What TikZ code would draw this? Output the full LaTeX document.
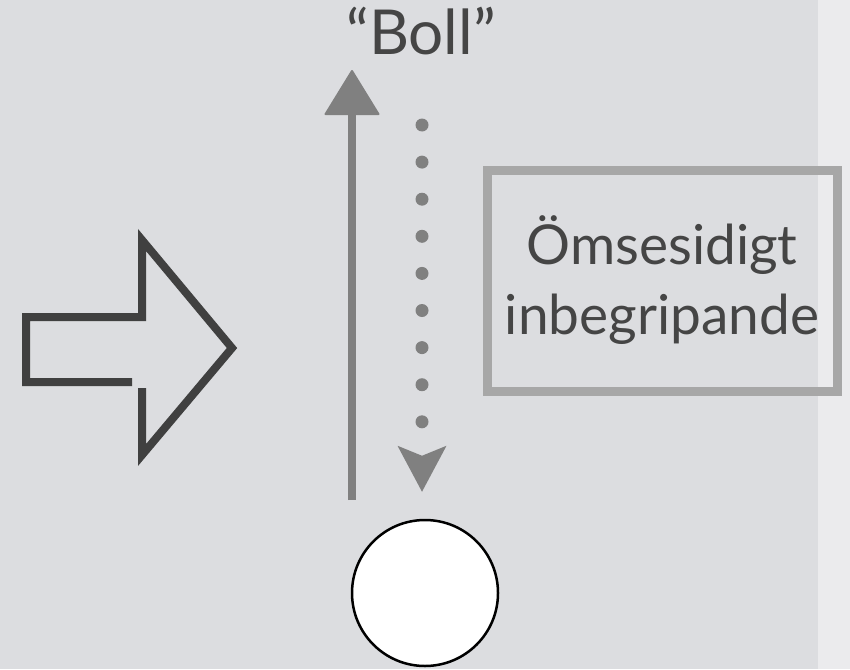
\documentclass[tikz,border=0pt]{standalone}
\usepackage{fontspec}
\setmainfont{Lato}
\usetikzlibrary{arrows.meta}

\definecolor{paper}{HTML}{DCDDE0}
\definecolor{strip}{HTML}{EBEBED}
\definecolor{ink}{HTML}{454545}
\definecolor{darkarrow}{HTML}{404040}
\definecolor{arrowgray}{HTML}{808080}
\definecolor{framegray}{HTML}{A7A7A7}

\tikzset{
  bolltext/.style={text=ink,inner sep=0pt,font=\fontsize{62}{64}\selectfont},
  framebox/.style={draw=framegray,line width=9pt,minimum width=350pt,minimum height=221pt,
    align=center,text=ink,font=\fontsize{55}{70}\selectfont},
  ballnode/.style={circle,draw=black,line width=2.5pt,fill=white,minimum size=146pt,inner sep=0pt},
  uparrow/.style={draw=arrowgray,line width=7.5pt,
    -{Triangle[length=46pt,width=56pt,line width=2pt,round]}},
  dotarrow/.style={draw=arrowgray,line width=13pt,line cap=round,dash pattern=on 0pt off 37.1pt,
    -{Stealth[length=46pt,width=49pt,inset=10pt,line width=0pt]}},
  bigarrow/.style={draw=darkarrow,line width=8pt,miter limit=20}
}

\begin{document}
\begin{tikzpicture}[x=1pt,y=-1pt]
\useasboundingbox (0,0) rectangle (850,669);
\fill[paper] (0,0) rectangle (850,669);
\fill[strip] (818,0) rectangle (850,669);

% big outlined arrow
\draw[bigarrow] (132,382) -- (26,382) -- (26,317) -- (142,317) -- (142,240)
  -- (232,348) -- (142,455) -- (142,388);

\node[bolltext,anchor=base] (boll) at (421,55) {“Boll”};
\node[framebox] (mutual) at (662,280.5) {Ömsesidigt\\inbegripande};
\node[ballnode] (ball) at (425,593) {};

\coordinate (upfoot) at (352,500);
\coordinate (uptip) at (352,70);
\coordinate (dotstart) at (422,125);

\draw[uparrow] (upfoot) -- (uptip);
\draw[dotarrow,shorten >=27pt] (dotstart) -- (dotstart |- ball.north);
\end{tikzpicture}
\end{document}
